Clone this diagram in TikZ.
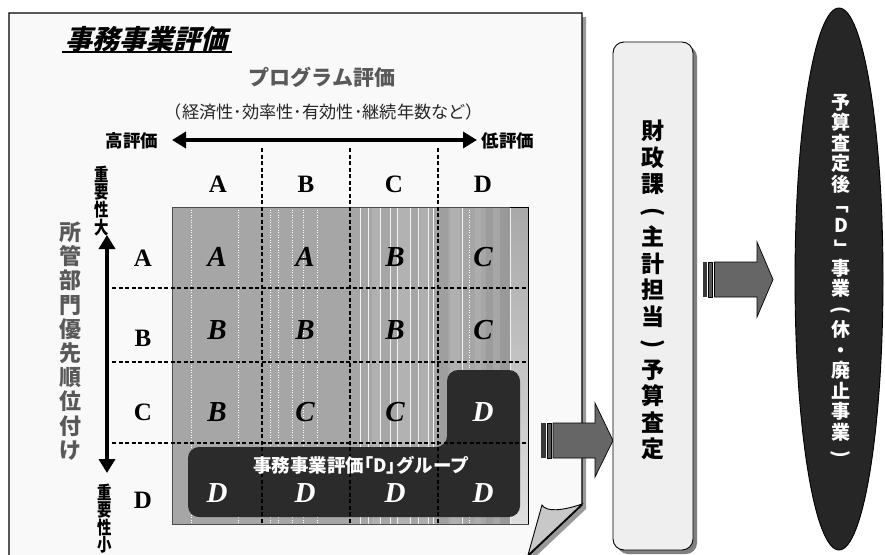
\documentclass[tikz,border=0pt]{standalone}
\usepackage{graphicx}
\usepackage{fontspec}
\usetikzlibrary{arrows.meta,shapes.geometric}
\newfontfamily\jp{Noto Sans CJK JP}
\newfontfamily\jpn{Noto Sans CJK JP}[FakeStretch=0.8]
\newfontfamily\jpsl{Noto Sans CJK JP}[FakeSlant=0.25]
\newfontfamily\tms{Liberation Serif}
\definecolor{pagefill}{HTML}{F9F9F9}
\definecolor{pageshadow}{HTML}{999999}
\definecolor{gridgray}{HTML}{A6A6A6}
\definecolor{darkgrp}{HTML}{2B2B2B}
\definecolor{arrowgray}{HTML}{666666}
\definecolor{boxfill}{HTML}{EFEFEF}
\definecolor{ellfill}{HTML}{262626}
\definecolor{textgray}{HTML}{595959}
\definecolor{flapgray}{HTML}{C8C8C8}
\newcommand{\vlp}{\rotatebox[origin=c]{-90}{(}}
\newcommand{\vrp}{\rotatebox[origin=c]{-90}{)}}
\newcommand{\vlb}{\rotatebox[origin=c]{-90}{「}}
\newcommand{\vrb}{\rotatebox[origin=c]{-90}{」}}
\tikzset{
  hdr/.style={font=\tms\bfseries\fontsize{25}{25}\selectfont, inner sep=0},
  cell/.style={font=\tms\bfseries\itshape\fontsize{29}{29}\selectfont, inner sep=0},
  wcell/.style={cell, text=white},
  gridline/.style={line width=1.4, dash pattern=on 4pt off 2.5pt},
  dotw/.style={white, line width=0.6, dash pattern=on 1pt off 1.5pt},
  solw/.style={white!85!gridgray, line width=0.8},
  bigarrow/.style={line width=4.5, {Triangle[length=14pt,width=16pt]}-{Triangle[length=14pt,width=16pt]}},
  blockarrow/.style={fill=arrowgray, draw=black, line width=0.7},
  vtxt/.style={align=center, inner sep=0},
}
\begin{document}
\begin{tikzpicture}[x=1pt,y=-1pt]
\useasboundingbox (0,0) rectangle (885,554);
\fill[white] (0,0) rectangle (885,554);

% page with shadow and folded corner
\fill[pageshadow] (13,17) -- (586,17) -- (586,509) -- (532,560) -- (13,560) -- cycle;
\filldraw[fill=pagefill, draw=black, line width=1.3] (9,13) -- (582,13) -- (582,505) -- (526,558) -- (9,558) -- cycle;
\filldraw[fill=flapgray, draw=black, line width=0.9] (542,505) .. controls (546,512) and (562,511) .. (582,504) -- (528,555) -- cycle;

% title
\node[font=\jpsl\bfseries\fontsize{27}{27}\selectfont, inner sep=0] (title) at (146,39) {事務事業評価};
\draw[line width=1.5] (62,52) -- (232,52);

% program evaluation header
\node[font=\jp\bfseries\fontsize{21}{21}\selectfont, text=textgray, inner sep=0] (prog) at (322,77) {プログラム評価};
\node[font=\jp\fontsize{17.2}{17.2}\selectfont, text=black!85, inner sep=0] (crit) at (324,112) {（経済性･効率性･有効性･継続年数など）};
\node[font=\jp\bfseries\fontsize{17.5}{17.5}\selectfont, inner sep=0] (hi) at (132,141) {高評価};
\node[font=\jp\bfseries\fontsize{17.5}{17.5}\selectfont, inner sep=0] (lo) at (508,141) {低評価};
\coordinate (hl) at (172,140);
\coordinate (hr) at (477,140);
\draw[bigarrow] (hl) -- (hr);

% department priority
\node[font=\jp\bfseries\fontsize{22}{24.2}\selectfont, text=textgray, vtxt] (dept) at (70,341) {所\\管\\部\\門\\優\\先\\順\\位\\付\\け};
\node[font=\jpn\bfseries\fontsize{18}{17}\selectfont, vtxt] (imphi) at (102,201) {重\\要\\性\\大};
\node[font=\jpn\bfseries\fontsize{18}{17}\selectfont, vtxt] (implo) at (105,519) {重\\要\\性\\小};
\coordinate (vt) at (107,235);
\coordinate (vb) at (107,473);
\draw[bigarrow] (vt) -- (vb);

% matrix background
\fill[gridgray] (172,207) rectangle (528,524);
\fill[gray!62] (372,207) rectangle (380,524);
\fill[gray!60] (398,207) rectangle (410,524);
\fill[gray!63] (420,207) rectangle (428,524);
\fill[gray!75] (438,207) rectangle (448,524);
\fill[gray!62] (450,207) rectangle (460,524);
\fill[gray!64] (475,207) rectangle (481,524);
\fill[gray!78] (486,207) rectangle (493,524);
\fill[gray!80] (500,207) rectangle (510,524);
\shade[top color=gray!68, bottom color=gray!25] (510,207) rectangle (528,524);
\foreach \xx in {191,238,270,278,292,303,317,469}
  \draw[dotw] (\xx,207) -- (\xx,524);
\foreach \xx in {360,368,380,390,397,410,418,428,433,462,510}
  \draw[solw] (\xx,207) -- (\xx,524);
\draw[black!70, line width=0.6] (172,207) rectangle (528,524);
\draw[black, line width=0.9] (510,207) -- (528,207) -- (528,524);

% D group
\fill[darkgrp, rounded corners=11] (188,447) -- (447,447) -- (447,370) -- (520,370) -- (520,517) -- (188,517) -- cycle;

% grid lines
\foreach \xx in {262,350,438}
  \draw[gridline] (\xx,148) -- (\xx,524);
\foreach \yy in {288,362,443}
  \draw[gridline] (112,\yy) -- (528,\yy);

% column and row headers
\node[hdr] (cA) at (218,184) {A};
\node[hdr] (cB) at (306,184) {B};
\node[hdr] (cC) at (394,184) {C};
\node[hdr] (cD) at (483,184) {D};
\node[hdr] (rA) at (143,258) {A};
\node[hdr] (rB) at (143,338) {B};
\node[hdr] (rC) at (143,412) {C};
\node[hdr] (rD) at (143,500) {D};

% cells
\node[cell] (aa) at (217,257) {A};
\node[cell] (ab) at (305,257) {A};
\node[cell] (ac) at (395,257) {B};
\node[cell] (ad) at (483,257) {C};
\node[cell] (ba) at (217,330) {B};
\node[cell] (bb) at (305,330) {B};
\node[cell] (bc) at (395,330) {B};
\node[cell] (bd) at (483,330) {C};
\node[cell] (ca) at (217,412) {B};
\node[cell] (cb) at (305,412) {C};
\node[cell] (cc) at (395,412) {C};
\node[wcell] (cd) at (483,412) {D};
\node[wcell] (da) at (217,493) {D};
\node[wcell] (db) at (305,493) {D};
\node[wcell] (dc) at (395,493) {D};
\node[wcell] (dd) at (483,493) {D};
\node[font=\jp\bfseries\fontsize{18.5}{18.5}\selectfont, text=white, inner sep=0] (grp) at (361,465) {事務事業評価｢D｣グループ};

% block arrow 1
\fill[black!78] (541,423) rectangle (546,458);
\filldraw[fill=black!65, draw=black, line width=0.5] (547.5,423) rectangle (551.5,458);
\filldraw[blockarrow] (553,423) -- (595,423) -- (595,403) -- (613,440.5) -- (595,477) -- (595,458) -- (553,458) -- cycle;

% finance box
\fill[black!50] (617,46) [rounded corners=11] rectangle (697,554);
\node[draw=black, line width=0.9, fill=boxfill, rounded corners=11, minimum width=80, minimum height=508, inner sep=0] (fin) at (653,296) {};
\node[font=\jp\bfseries\fontsize{23}{26.5}\selectfont, vtxt] (fintxt) at (653,290) {財\\政\\課\\\vlp\\主\\計\\担\\当\\\vrp\\予\\算\\査\\定};

% block arrow 2
\fill[black!78] (703,262) rectangle (707,297);
\filldraw[fill=black!65, draw=black, line width=0.5] (708.5,262) rectangle (712.5,297);
\filldraw[blockarrow] (714.5,262) -- (757,262) -- (757,242) -- (773,279.5) -- (757,317) -- (757,297) -- (714.5,297) -- cycle;

% result ellipse
\node[ellipse, draw=black, line width=0.9, fill=ellfill, minimum width=88, minimum height=542, inner sep=0] (res) at (839,279) {};
\node[font=\jp\bfseries\fontsize{19}{20.5}\selectfont, text=white, vtxt] (restxt) at (841,277) {予\\算\\査\\定\\後\\\vlb\\D\\\vrb\\事\\業\\\vlp\\休\\・\\廃\\止\\事\\業\\\vrp};
\end{tikzpicture}
\end{document}
